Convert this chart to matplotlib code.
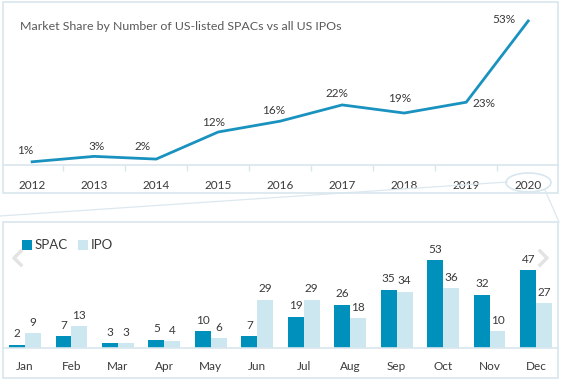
import matplotlib.pyplot as plt
from matplotlib.patches import Rectangle, Ellipse
from matplotlib.lines import Line2D
import numpy as np

plt.rcParams['font.family'] = ['Lato', 'DejaVu Sans']

# top panel: market share by year
years = ['2012', '2013', '2014', '2015', '2016', '2017', '2018', '2019', '2020']
share = [1, 3, 2, 12, 16, 22, 19, 23, 53]
share_offsets = [(-7, 11), (2, 10), (-14, 13), (-5, 9), (-7, 11), (-5, 11), (-5, 15), (18, -1), (-24, 1)]

# bottom panel: monthly counts in 2020
months = ['Jan', 'Feb', 'Mar', 'Apr', 'May', 'Jun', 'Jul', 'Aug', 'Sep', 'Oct', 'Nov', 'Dec']
spac = [2, 7, 3, 5, 10, 7, 19, 26, 35, 53, 32, 47]
ipo = [9, 13, 3, 4, 6, 29, 29, 18, 34, 36, 10, 27]

W, H = 562, 381
DARK = '#0090BC'
LIGHT = '#CDE7F1'
TXT = '#3A3A3A'
BORDER = '#D8E6EE'


def fx(x):
    return x / W


def fy(y):
    return 1 - y / H


fig = plt.figure(figsize=(W / 100, H / 100), dpi=100)
fig.patch.set_facecolor('white')

# zoom lines from the 2020 ellipse down to the monthly panel
fig.lines.append(Line2D([fx(507), fx(0)], [fy(182), fy(216)], transform=fig.transFigure,
                        color='#DCE8EF', lw=0.9, zorder=0))
fig.lines.append(Line2D([fx(545), fx(559)], [fy(190), fy(222)], transform=fig.transFigure,
                        color='#DCE8EF', lw=0.9, zorder=0))

# panel borders
fig.patches.append(Rectangle((fx(3), fy(193)), fx(555), 191 / H, transform=fig.transFigure,
                             fill=False, edgecolor=BORDER, lw=1.2))
fig.patches.append(Rectangle((fx(3), fy(378)), fx(555), 156 / H, transform=fig.transFigure,
                             fill=False, edgecolor=BORDER, lw=1.2))

# ---- top line chart ----
ax1 = fig.add_axes([fx(3), fy(164.5), fx(555), 162.5 / H])
x = np.arange(len(years))
ax1.plot(x, share, color='#1A92BF', lw=2, solid_joinstyle='miter')
for i, v in enumerate(share):
    ax1.annotate(f'{v}%', (x[i], v), xytext=share_offsets[i], textcoords='offset pixels',
                 ha='center', va='center', fontsize=8.5, color=TXT)
ax1.set_xlim(-0.47, 8.48)
ax1.set_ylim(0, 60)
ax1.set_yticks([])
ax1.set_xticks(x)
ax1.set_xticklabels(years, fontsize=8.5, color=TXT)
ax1.set_xticks(x[:-1] + 0.5, minor=True)
ax1.tick_params(axis='x', which='major', length=0, pad=11)
ax1.tick_params(axis='x', which='minor', length=4, color=BORDER, width=1)
for s in ['top', 'left', 'right']:
    ax1.spines[s].set_visible(False)
ax1.spines['bottom'].set_color(BORDER)
ax1.spines['bottom'].set_linewidth(1.2)
ax1.patch.set_alpha(0)
fig.text(fx(20), fy(27), 'Market Share by Number of US-listed SPACs vs all US IPOs',
         fontsize=8.9, color='#595959', va='center', ha='left')

fig.patches.append(Ellipse((fx(528.5), fy(182.5)), 45 / W, 19 / H, transform=fig.transFigure,
                           fill=False, edgecolor=BORDER, lw=1.2))

# ---- bottom bar chart ----
ax2 = fig.add_axes([fx(3), fy(348), fx(555), 126 / H])
xm = np.arange(len(months))
bw = 0.34
b1 = ax2.bar(xm - bw / 2, spac, width=bw, color=DARK, label='SPAC')
b2 = ax2.bar(xm + bw / 2, ipo, width=bw, color=LIGHT, label='IPO')
for bars in (b1, b2):
    for r in bars:
        ax2.annotate(f'{int(r.get_height())}', (r.get_x() + r.get_width() / 2, r.get_height()),
                     xytext=(0, 11), textcoords='offset pixels', ha='center', va='center',
                     fontsize=8.5, color=TXT)
ax2.set_xlim(-0.47, 11.47)
ax2.set_ylim(0, 76)
ax2.set_yticks([])
ax2.set_xticks(xm)
ax2.set_xticklabels(months, fontsize=8.5, color=TXT)
ax2.tick_params(axis='x', length=0, pad=9)
for s in ['top', 'left', 'right']:
    ax2.spines[s].set_visible(False)
ax2.spines['bottom'].set_color(BORDER)
ax2.spines['bottom'].set_linewidth(1.2)
ax2.patch.set_alpha(0)
ax2.legend(loc='upper left', bbox_to_anchor=(fx(17), fy(234)), bbox_transform=fig.transFigure,
           ncol=2, frameon=False, fontsize=9.5, handlelength=0.75, handleheight=0.75,
           handletextpad=0.2, columnspacing=0.8, labelcolor=TXT, borderaxespad=0)

# carousel chevrons
chev = '#E3E3E3'
fig.lines.append(Line2D([fx(21), fx(14), fx(21)], [fy(251), fy(258), fy(265)],
                        transform=fig.transFigure, color=chev, lw=2.5))
fig.lines.append(Line2D([fx(540), fx(547), fx(540)], [fy(251), fy(258), fy(265)],
                        transform=fig.transFigure, color=chev, lw=2.5))

fig.savefig('out.png', dpi=100)
